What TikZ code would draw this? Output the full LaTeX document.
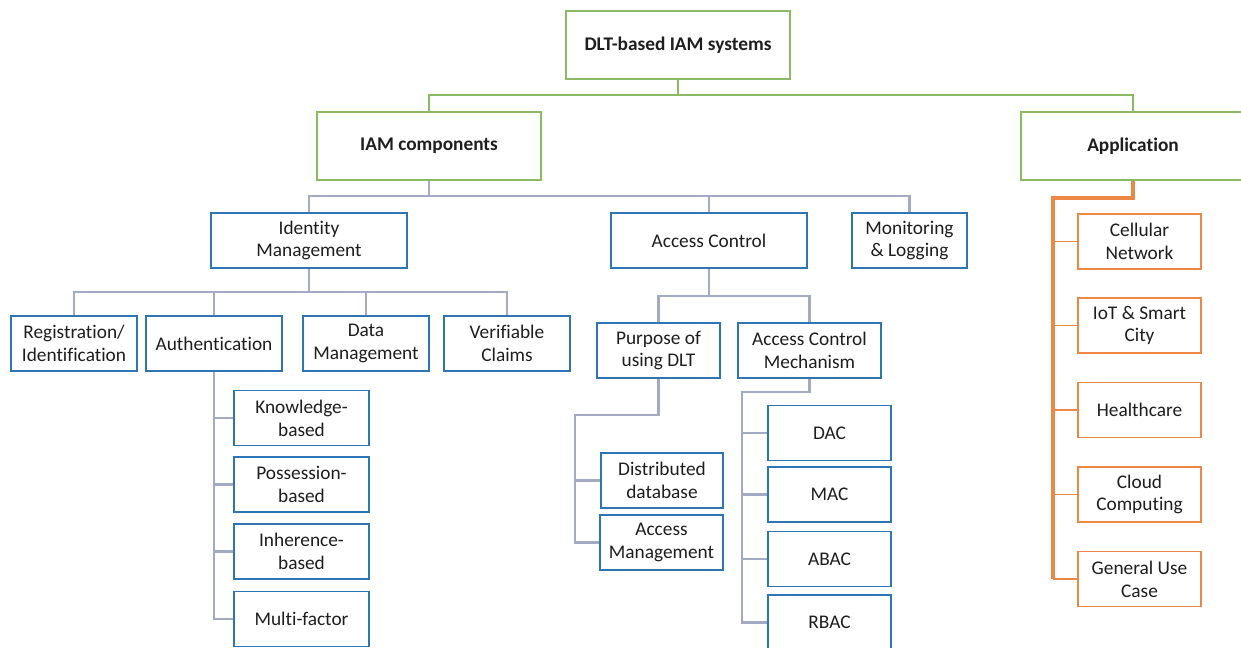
\documentclass[tikz,border=0pt]{standalone}
\usepackage{fontspec}
\setmainfont{Carlito}[Ligatures=NoCommon]
\usepackage{xcolor}
\usepackage{tikz}
\definecolor{rootgreen}{RGB}{140,186,100}
\definecolor{boxblue}{RGB}{46,117,182}
\definecolor{linkgray}{RGB}{165,170,195}
\definecolor{apporange}{RGB}{237,135,70}
\definecolor{inkgray}{RGB}{30,30,30}

\begin{document}
\begin{tikzpicture}[
    x=0.02cm, y=-0.02cm,
    font=\fontsize{11}{13}\selectfont,
    every node/.style={text=inkgray},
    topbox/.style={draw=rootgreen, line width=1.1pt, fill=white, align=center, font=\fontsize{11}{13}\selectfont\bfseries, minimum width=4.48cm, minimum height=1.36cm},
    catbox/.style={draw=boxblue, line width=1.1pt, fill=white, align=center, inner sep=1pt, minimum height=1.1cm},
    appbox/.style={draw=apporange, line width=1.1pt, fill=white, align=center, inner sep=1pt, minimum width=2.46cm, minimum height=1.1cm},
    rootedge/.style={draw=rootgreen, line width=1.3pt},
    treeedge/.style={draw=linkgray, line width=1.2pt},
    appedge/.style={draw=apporange, line width=1.8pt},
    appbranch/.style={draw=apporange, line width=1.1pt}
]
\useasboundingbox (0,0) rectangle (1241,647);
\node[topbox] (root) at (678,45) {DLT-based IAM systems};
\node[topbox] (iam) at (429,146) {IAM components};
\node[topbox] (app) at (1133,146) {Application};
\node[catbox, minimum width=3.92cm] (idm) at (309,240.5) {Identity\\Management};
\node[catbox, minimum width=3.92cm] (ac) at (709,240.5) {Access Control};
\node[catbox, minimum width=2.3cm] (mon) at (909.5,240.5) {Monitoring\\\& Logging};
\node[catbox, minimum width=2.52cm] (reg) at (74,343.5) {Registration/\\Identification};
\node[catbox, minimum width=2.72cm] (auth) at (214,343.5) {Authentication};
\node[catbox, minimum width=2.52cm] (dm) at (366,343.5) {Data\\Management};
\node[catbox, minimum width=2.52cm] (vc) at (507,343.5) {Verifiable\\Claims};
\node[catbox, minimum width=2.7cm] (kb) at (301.5,418) {Knowledge-\\based};
\node[catbox, minimum width=2.7cm] (pb) at (301.5,484.5) {Possession-\\based};
\node[catbox, minimum width=2.7cm] (ib) at (301.5,551.5) {Inherence-\\based};
\node[catbox, minimum width=2.7cm] (mf) at (301.5,619) {Multi-factor};
\node[catbox, minimum width=2.46cm] (purp) at (658.5,350.5) {Purpose of\\using DLT};
\node[catbox, minimum width=2.86cm] (acm) at (809.5,350.5) {Access Control\\Mechanism};
\node[catbox, minimum width=2.44cm] (ddb) at (662,480.5) {Distributed\\database};
\node[catbox, minimum width=2.46cm] (amg) at (661.5,542.5) {Access\\Management};
\node[catbox, minimum width=2.46cm] (dac) at (829.5,433) {DAC};
\node[catbox, minimum width=2.46cm] (mac) at (829.5,494.5) {MAC};
\node[catbox, minimum width=2.46cm] (abac) at (829.5,559) {ABAC};
\node[catbox, minimum width=2.46cm] (rbac) at (829.5,622.5) {RBAC};
\node[appbox] (cell) at (1139.5,241.5) {Cellular\\Network};
\node[appbox] (iot) at (1139.5,325.5) {IoT \& Smart\\City};
\node[appbox] (hc) at (1139.5,410) {Healthcare};
\node[appbox] (cc) at (1139.5,494.5) {Cloud\\Computing};
\node[appbox] (guc) at (1139.5,579) {General Use\\Case};
\coordinate (rootbus) at (678,95);
\coordinate (iambus) at (429,196);
\coordinate (idmbus) at (309,292);
\coordinate (acbus) at (709,296);
\coordinate (purpbend) at (575,415);
\coordinate (acmbend) at (742,392);
\coordinate (appbend) at (1053,198);
\draw[rootedge] (root.south) -- (rootbus);
\draw[rootedge] (iam.north) |- (rootbus) -| (app.north);
\draw[treeedge] (iam.south) -- (iambus);
\draw[treeedge] (idm.north) |- (iambus) -| (mon.north);
\draw[treeedge] (ac.north) -- (ac.north |- iambus);
\draw[treeedge] (idm.south) -- (idmbus);
\draw[treeedge] (reg.north) |- (idmbus) -| (vc.north);
\foreach \n in {auth,dm}
  \draw[treeedge] (\n.north) -- (\n.north |- idmbus);
\draw[treeedge] (auth.south) |- (mf.west);
\foreach \n in {kb,pb,ib}
  \draw[treeedge] (auth.south |- \n.west) -- (\n.west);
\draw[treeedge] (ac.south) -- (acbus);
\draw[treeedge] (purp.north) |- (acbus) -| (acm.north);
\draw[treeedge] (purp.south) |- (purpbend) |- (amg.west);
\draw[treeedge] (purpbend |- ddb.west) -- (ddb.west);
\draw[treeedge] (acm.south) |- (acmbend) |- (rbac.west);
\foreach \n in {dac,mac,abac}
  \draw[treeedge] (acmbend |- \n.west) -- (\n.west);
\draw[appedge] (app.south) |- (appbend) -- (appbend |- guc.west);
\foreach \n in {cell,iot,hc,cc,guc}
  \draw[appbranch] (appbend |- \n.west) -- (\n.west);
\end{tikzpicture}
\end{document}
